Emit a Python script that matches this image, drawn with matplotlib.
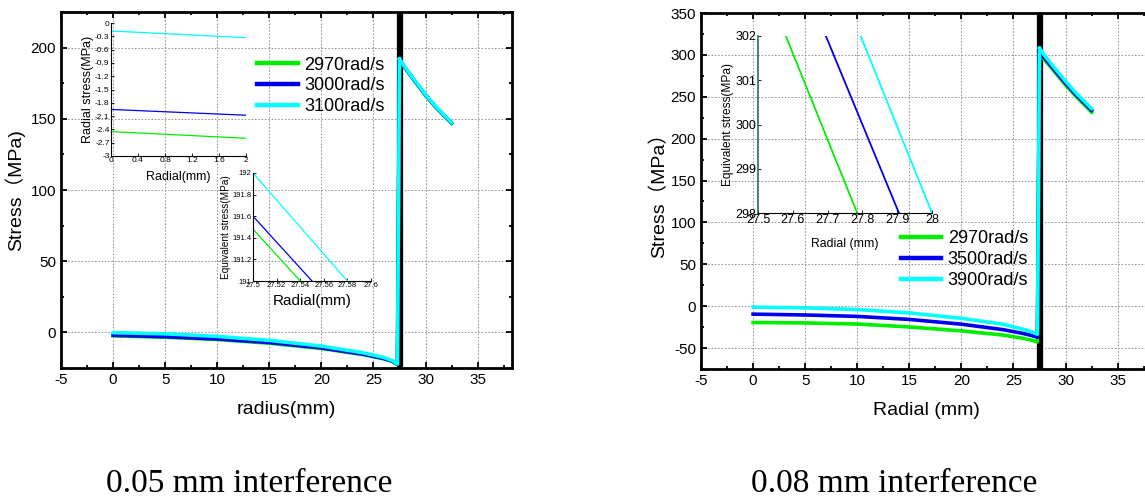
import numpy as np
import matplotlib
matplotlib.use('Agg')
import matplotlib.pyplot as plt
from matplotlib.ticker import MultipleLocator, FormatStrFormatter

plt.rcParams['font.family'] = ['Liberation Sans', 'Noto Sans CJK SC', 'DejaVu Sans']
plt.rcParams['axes.unicode_minus'] = False

# ---- data, 0.05 mm interference ----
lab_a = ['2970rad/s', '3000rad/s', '3100rad/s']
r_in = [0, 5, 10, 15, 20, 24, 26, 26.8, 27.3, 27.5]
a_in = [[-2.45, -3.4, -5.0, -7.6, -11.3, -15.6, -18.6, -20.4, -22.6, 191.4],
        [-2.0, -3.0, -4.6, -7.1, -10.9, -15.3, -18.3, -20.2, -22.4, 191.6],
        [-0.2, -1.0, -2.8, -5.6, -9.6, -14.3, -17.6, -19.8, -22.2, 192.0]]
r_out = [27.5, 28, 29, 30, 31, 32, 32.5]
a_out = [[191.4, 186.0, 176.0, 166.5, 158.0, 150.5, 146.9],
         [191.6, 186.2, 176.2, 166.7, 158.2, 150.7, 147.1],
         [192.0, 186.5, 176.5, 167.0, 158.5, 151.0, 147.4]]
# inset: radial stress near the centre
ia_r = [0, 2]
ia_s = [[-2.45, -2.6], [-1.95, -2.08], [-0.18, -0.33]]
# inset: equivalent stress at the interface
ib_r = [[27.5, 27.54], [27.5, 27.55], [27.5, 27.58]]
ib_s = [[191.48, 191.0], [191.6, 191.0], [192.0, 191.0]]

# ---- data, 0.08 mm interference ----
lab_b = ['2970rad/s', '3500rad/s', '3900rad/s']
b_in = [[-19.5, -20.0, -21.3, -24.8, -29.5, -34.5, -38.5, -40.8, -42.8, 300.0],
        [-9.5, -10.5, -12.2, -15.8, -21.5, -28.0, -32.8, -35.2, -37.2, 302.0],
        [-1.2, -2.0, -4.0, -8.0, -14.5, -21.5, -27.8, -30.8, -33.5, 308.0]]
b_out = [[300.0, 294.0, 279.0, 264.0, 250.5, 238.0, 231.5],
         [302.0, 296.0, 281.0, 266.0, 252.5, 240.0, 234.0],
         [308.0, 299.0, 283.5, 268.5, 254.5, 242.0, 236.0]]
ic_r = [[27.58, 27.785], [27.695, 27.905], [27.795, 28.0]]
ic_s = [[302, 298], [302, 298], [302, 298]]

r_iface = 27.5
farben = ['#00ee00', '#0000ee', '#00ffff']

W, H = 1145, 501
fig = plt.figure(figsize=(W / 100, H / 100), dpi=100)

def px(l, t, r, b):
    return [l / W, 1 - b / H, (r - l) / W, (b - t) / H]

def paa_akseli(ax, ylim, ymaj, ymin_, xlab):
    ax.set_xlim(-5, 38.3)
    ax.set_ylim(*ylim)
    ax.xaxis.set_major_locator(MultipleLocator(5))
    ax.xaxis.set_minor_locator(MultipleLocator(2.5))
    ax.yaxis.set_major_locator(MultipleLocator(ymaj))
    ax.yaxis.set_minor_locator(MultipleLocator(ymin_))
    ax.tick_params(which='both', direction='in', top=True, right=True, labelsize=11, width=1.3)
    ax.tick_params(which='major', length=4)
    ax.tick_params(which='minor', length=2.5)
    for s in ax.spines.values():
        s.set_linewidth(2)
    ax.grid(True, which='major', color='#9a9a9a', linestyle=(0, (1.6, 1.6)), linewidth=0.75)
    ax.set_axisbelow(True)
    ax.set_xlabel(xlab, fontsize=14, labelpad=10)
    ax.axvline(r_iface, color='k', lw=4.5, zorder=2)

def inset(rect, xlim, ylim, xstep, ystep, fmt, tsize, ylab, ysize, xlab, xsize, xpad):
    ia = fig.add_axes(rect)
    ia.patch.set_alpha(0)
    ia.set_xlim(*xlim)
    ia.set_ylim(*ylim)
    ia.xaxis.set_major_locator(MultipleLocator(xstep))
    ia.yaxis.set_major_locator(MultipleLocator(ystep))
    ia.xaxis.set_major_formatter(FormatStrFormatter(fmt[0]))
    ia.yaxis.set_major_formatter(FormatStrFormatter(fmt[1]))
    ia.spines['top'].set_visible(False)
    ia.spines['right'].set_visible(False)
    ia.tick_params(direction='in', length=2, width=0.6, labelsize=tsize, pad=1)
    ia.set_ylabel(ylab, fontsize=ysize, labelpad=1)
    ia.set_xlabel(xlab, fontsize=xsize, labelpad=xpad)
    return ia

# ---------- vasen kuva ----------
ax = fig.add_axes(px(61, 12, 512, 368))
paa_akseli(ax, (-25, 225), 50, 25, 'radius(mm)')
ax.set_ylabel('Stress（MPa)', fontsize=14, labelpad=4)
for k in range(3):
    ax.plot(r_in, a_in[k], color=farben[k], lw=2.6, zorder=3, label=lab_a[k])
    ax.plot(r_out, a_out[k], color=farben[k], lw=2.6, zorder=3)
ax.legend(loc='upper left', bbox_to_anchor=(0.435, 0.875), frameon=False, fontsize=13,
          handlelength=2.25, handletextpad=0.35, labelspacing=0.22, borderpad=0,
          borderaxespad=0, handleheight=0.6)
for h in ax.get_legend().get_lines():
    h.set_linewidth(3.2)

i1 = inset(px(111, 23, 246, 156), (0, 2), (-3, 0), 0.4, 0.3, ('%g', '%g'), 6,
           'Radial stress(MPa)', 9, 'Radial(mm)', 9, 5)
for k in range(3):
    i1.plot(ia_r, ia_s[k], color=farben[k], lw=0.9)

i2 = inset(px(253, 173, 371, 281), (27.5, 27.6), (191, 192), 0.02, 0.2, ('%g', '%g'), 5.5,
           'Equivalent stress(MPa)', 7.2, 'Radial(mm)', 11, 3)
for k in range(3):
    i2.plot(ib_r[k], ib_s[k], color=farben[k], lw=0.9)

# ---------- oikea kuva ----------
bx = fig.add_axes(px(701, 13, 1152, 369))
paa_akseli(bx, (-75, 350), 50, 25, 'Radial (mm)')
bx.set_ylabel('Stress（MPa）', fontsize=14, labelpad=2)
for k in range(3):
    bx.plot(r_in, b_in[k], color=farben[k], lw=2.6, zorder=3, label=lab_b[k])
    bx.plot(r_out, b_out[k], color=farben[k], lw=2.6, zorder=3)
bx.legend(loc='upper left', bbox_to_anchor=(0.443, 0.39), frameon=False, fontsize=13,
          handlelength=2.25, handletextpad=0.35, labelspacing=0.22, borderpad=0,
          borderaxespad=0, handleheight=0.6)
for h in bx.get_legend().get_lines():
    h.set_linewidth(3.2)

i3 = inset(px(758, 36, 932, 213), (27.5, 28), (298, 302), 0.1, 1, ('%g', '%g'), 9,
           'Equivalent stress(MPa)', 8.6, 'Radial (mm)', 8.8, 8)
i3.spines['left'].set_color('#1f6f6f')
i3.spines['left'].set_linewidth(1.2)
for k in range(3):
    i3.plot(ic_r[k], ic_s[k], color=farben[k], lw=1.3)

fig.text(249 / W, 1 - 484 / H, '0.05 mm interference', family='Liberation Serif',
         fontsize=24, ha='center', va='center')
fig.text(894 / W, 1 - 484 / H, '0.08 mm interference', family='Liberation Serif',
         fontsize=24, ha='center', va='center')

fig.savefig('out.png', dpi=100)
